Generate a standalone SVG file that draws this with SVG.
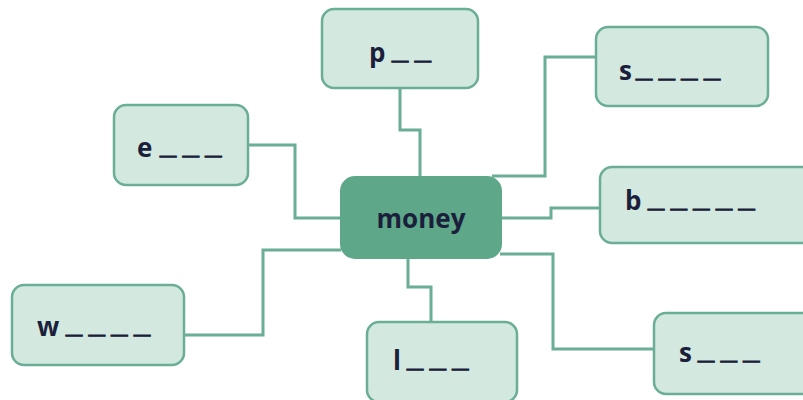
<svg xmlns="http://www.w3.org/2000/svg" width="803" height="400" viewBox="0 0 803 400">
<style>
.box{fill:#d3e8df;stroke:#6aae95;stroke-width:2.5}
.main{fill:#5ea889;stroke:#5ea889;stroke-width:2}
.t{font-family:"Open Sans","Noto Sans","Liberation Sans",sans-serif;font-weight:700;font-size:26px;fill:#1b1f3b}
.d{font-family:"Liberation Sans",sans-serif;font-weight:700;font-size:29px;letter-spacing:6.5px;stroke:#1b1f3b;stroke-width:1}
.c{fill:none;stroke:#6aae95;stroke-width:3}
</style>
<rect width="803" height="400" fill="#ffffff"/>
<g id="connectors">
<polyline class="c" points="400,88 400,130 420,130 420,178"/>
<polyline class="c" points="596,57 545,57 545,176 492,176"/>
<polyline class="c" points="248,145 295,145 295,218 341,218"/>
<polyline class="c" points="500,218 551,218 551,208 600,208"/>
<polyline class="c" points="184,335 263,335 263,250 341,250"/>
<polyline class="c" points="408,258 408,287 431,287 431,322"/>
<polyline class="c" points="500,254 553,254 553,349 655,349"/>
</g>
<g id="node-p">
<rect class="box" x="322" y="9" width="156" height="79" rx="12"/>
<text class="t" x="369" y="62">p<tspan class="d" x="392" dy="-3">__</tspan></text>
</g>
<g id="node-s1">
<rect class="box" x="596" y="27" width="172" height="79" rx="12"/>
<text class="t" x="619" y="80">s<tspan class="d" x="636" dy="-3">____</tspan></text>
</g>
<g id="node-e">
<rect class="box" x="114" y="105" width="134" height="80" rx="12"/>
<text class="t" x="137" y="157">e<tspan class="d" x="160" dy="-3">___</tspan></text>
</g>
<g id="node-b">
<rect class="box" x="600" y="167" width="215" height="76" rx="12"/>
<text class="t" x="625" y="210">b<tspan class="d" x="648" dy="-3">_____</tspan></text>
</g>
<g id="node-w">
<rect class="box" x="12" y="285" width="172" height="80" rx="12"/>
<text class="t" x="37" y="336">w<tspan class="d" x="66" dy="-3">____</tspan></text>
</g>
<g id="node-l">
<rect class="box" x="367" y="322" width="150" height="80" rx="12"/>
<text class="t" x="393" y="370">l<tspan class="d" x="407" dy="-3">___</tspan></text>
</g>
<g id="node-s2">
<rect class="box" x="654" y="313" width="160" height="81" rx="12"/>
<text class="t" x="679" y="362">s<tspan class="d" x="698" dy="-3">___</tspan></text>
</g>
<g id="node-money">
<rect class="main" x="341" y="177" width="160" height="81" rx="14"/>
<text class="t" x="421" y="228" text-anchor="middle">money</text>
</g>
</svg>
